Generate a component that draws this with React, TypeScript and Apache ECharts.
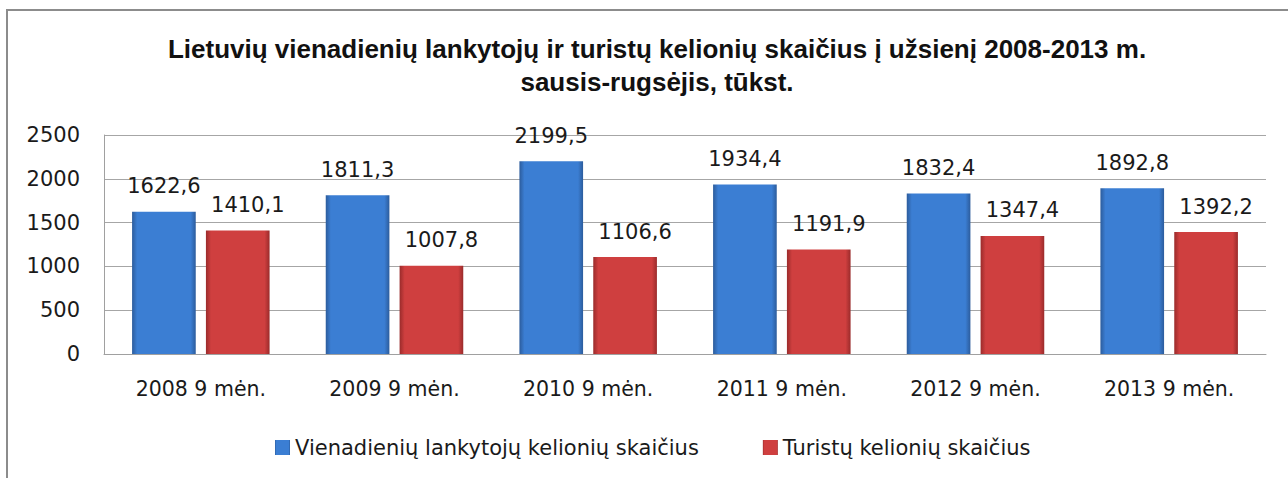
import React, { useEffect, useRef } from "react";
import * as echarts from "echarts";

const categories = ["2008 9 mėn.", "2009 9 mėn.", "2010 9 mėn.", "2011 9 mėn.", "2012 9 mėn.", "2013 9 mėn."];
const dayVisitors = [1622.6, 1811.3, 2199.5, 1934.4, 1832.4, 1892.8];
const tourists = [1410.1, 1007.8, 1106.6, 1191.9, 1347.4, 1392.2];
const seriesNames = ["Vienadienių lankytojų kelionių skaičius", "Turistų kelionių skaičius"];
const titleText = "Lietuvių vienadienių lankytojų ir turistų kelionių skaičius į užsienį 2008-2013 m.\nsausis-rugsėjis, tūkst.";

const FONT = "'DejaVu Sans', sans-serif";

function grad(edge: string, mid: string) {
  return new echarts.graphic.LinearGradient(0, 0, 1, 0, [
    { offset: 0, color: edge },
    { offset: 0.08, color: mid },
    { offset: 0.5, color: mid },
    { offset: 0.92, color: mid },
    { offset: 1, color: edge },
  ]);
}

const fmt = (p: any) => Number(p.value).toFixed(1).replace(".", ",");

export default function App() {
  const ref = useRef<HTMLDivElement>(null);
  useEffect(() => {
    if (!ref.current) return;
    const chart = echarts.init(ref.current, undefined, { renderer: "svg" });
    chart.setOption({
      animation: false,
      backgroundColor: "#ffffff",
      title: {
        text: titleText,
        left: 652,
        top: 27,
        textAlign: "center",
        textStyle: {
          fontFamily: "'Liberation Sans', Arial, sans-serif",
          fontWeight: "bold",
          fontSize: 26,
          lineHeight: 33,
          color: "#111111",
        },
      },
      graphic: [
        {
          type: "rect",
          shape: { x: 7, y: 10, width: 1300, height: 500 },
          style: { fill: "none", stroke: "#8c8c8c", lineWidth: 2 },
          silent: true,
          z: 100,
        },
      ],
      legend: {
        left: 270,
        top: 432,
        itemWidth: 15,
        itemHeight: 15,
        itemGap: 64,
        icon: "rect",
        textStyle: { fontFamily: FONT, fontSize: 21, color: "#1a1a1a" },
        data: seriesNames,
      },
      grid: { left: 104, right: 22, top: 135, bottom: 124, containLabel: false },
      xAxis: {
        type: "category",
        data: categories,
        axisLine: { show: true, lineStyle: { color: "#a0a0a0", width: 1 } },
        axisTick: { show: false },
        axisLabel: { fontFamily: FONT, fontSize: 20.5, color: "#1a1a1a", margin: 24 },
      },
      yAxis: {
        type: "value",
        min: 0,
        max: 2500,
        interval: 500,
        axisLine: { show: true, lineStyle: { color: "#a0a0a0", width: 1 } },
        axisTick: { show: false },
        splitLine: { show: true, lineStyle: { color: "#a6a6a6", width: 1 } },
        axisLabel: {
          fontFamily: FONT,
          fontSize: 21,
          color: "#1a1a1a",
          margin: 24,
          formatter: (v: number) => String(v),
        },
      },
      series: [
        {
          name: seriesNames[0],
          type: "bar",
          data: dayVisitors,
          barCategoryGap: "29%",
          barGap: "16%",
          itemStyle: { color: grad("#2c5c9c", "#3b7ed3") },
          label: {
            show: true,
            position: "top",
            distance: 15,
            formatter: fmt,
            fontFamily: FONT,
            fontSize: 21,
            color: "#1a1a1a",
          },
        },
        {
          name: seriesNames[1],
          type: "bar",
          data: tourists,
          barCategoryGap: "29%",
          barGap: "16%",
          itemStyle: { color: grad("#9a2b2b", "#cf3f3f") },
          label: {
            show: true,
            position: "top",
            distance: 15,
            offset: [10, 0],
            formatter: fmt,
            fontFamily: FONT,
            fontSize: 21,
            color: "#1a1a1a",
          },
        },
      ],
    });
    return () => chart.dispose();
  }, []);
  return (
    <div
      ref={ref}
      style={{ position: "absolute", left: 0, top: 0, width: 1288, height: 478 }}
    />
  );
}
